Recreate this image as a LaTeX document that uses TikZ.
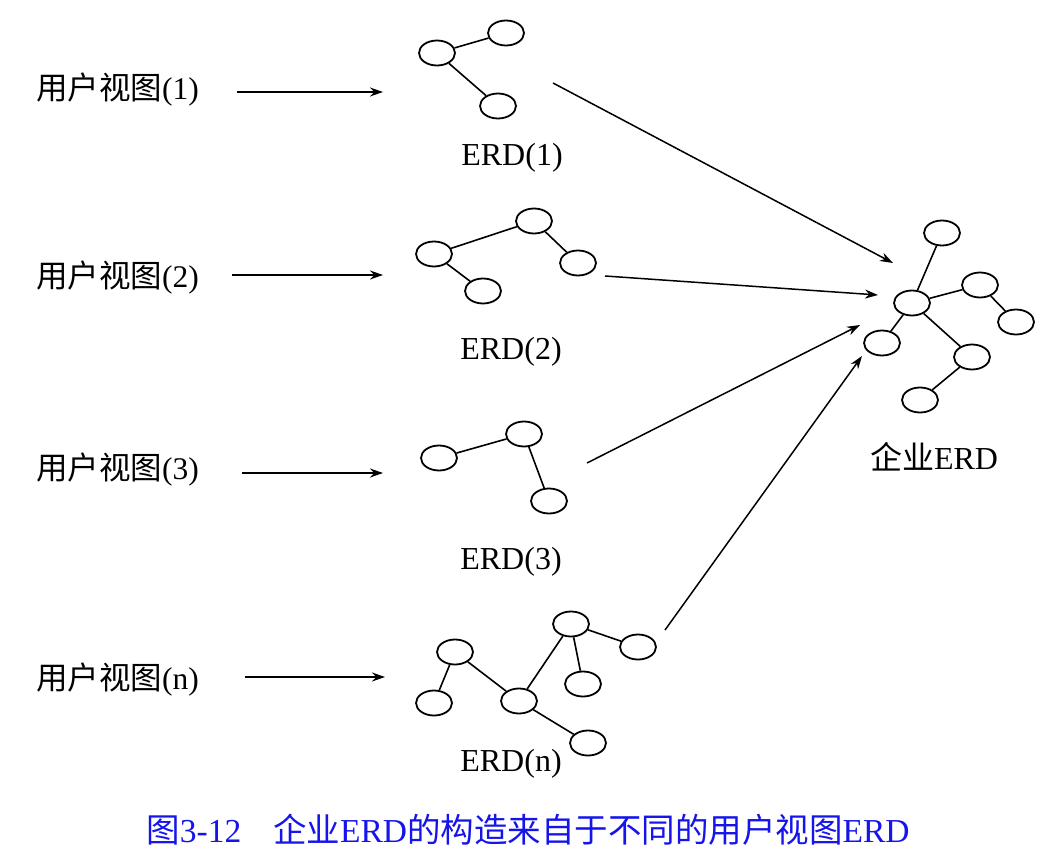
\documentclass[tikz,border=0pt]{standalone}
\usepackage{fontspec}
\setmainfont{Liberation Serif}
\newfontfamily\cjk{Noto Sans CJK SC}
\usetikzlibrary{shapes.geometric,arrows.meta}
\definecolor{capblue}{RGB}{20,20,235}
\begin{document}
\begin{tikzpicture}[x=1pt,y=-1pt,
  ent/.style={draw,ellipse,line width=1.8pt,minimum width=36pt,minimum height=25pt,inner sep=0pt},
  rel/.style={line width=1.6pt},
  arr/.style={line width=1.5pt,-{Stealth[length=13pt,width=9pt]}},
  lbl/.style={inner sep=0pt,font=\fontsize{31.5}{36}\selectfont},
  erdl/.style={inner sep=0pt,font=\fontsize{32}{36}\selectfont},
  capt/.style={inner sep=0pt,text=capblue,font=\fontsize{33.5}{38}\selectfont}]
\useasboundingbox (0,0) rectangle (1040,861);
% left labels
\node[lbl,anchor=west] (v1) at (36,90) {{\cjk 用户视图}(1)};
\node[lbl,anchor=west] (v2) at (36,278) {{\cjk 用户视图}(2)};
\node[lbl,anchor=west] (v3) at (36,470) {{\cjk 用户视图}(3)};
\node[lbl,anchor=west] (vn) at (36,680) {{\cjk 用户视图}(n)};
% short arrows
\coordinate (s1a) at (237,92); \coordinate (s1b) at (383,92);
\coordinate (s2a) at (232,275); \coordinate (s2b) at (383,275);
\coordinate (s3a) at (242,473); \coordinate (s3b) at (383,473);
\coordinate (sna) at (245,677); \coordinate (snb) at (385,677);
\draw[arr] (s1a) -- (s1b);
\draw[arr] (s2a) -- (s2b);
\draw[arr] (s3a) -- (s3b);
\draw[arr] (sna) -- (snb);
% ERD(1)
\node[ent] (a1) at (437,53) {};
\node[ent] (b1) at (506,33) {};
\node[ent] (c1) at (498,106) {};
\draw[rel] (a1) -- (b1) (a1) -- (c1);
\node[erdl] (l1) at (512,158) {ERD(1)};
% ERD(2)
\node[ent] (a2) at (434,254) {};
\node[ent] (b2) at (534,221) {};
\node[ent] (c2) at (578,263) {};
\node[ent] (d2) at (483,291) {};
\draw[rel] (a2) -- (b2) (b2) -- (c2) (a2) -- (d2);
\node[erdl] (l2) at (511,352) {ERD(2)};
% ERD(3)
\node[ent] (a3) at (439,458) {};
\node[ent] (b3) at (524,434) {};
\node[ent] (c3) at (549,501) {};
\draw[rel] (a3) -- (b3) (b3) -- (c3);
\node[erdl] (l3) at (511,562) {ERD(3)};
% ERD(n)
\node[ent] (an) at (455,652) {};
\node[ent] (bn) at (434,703) {};
\node[ent] (cn) at (519,701) {};
\node[ent] (dn) at (571,624) {};
\node[ent] (en) at (638,647) {};
\node[ent] (fn) at (583,684) {};
\node[ent] (gn) at (588,743) {};
\draw[rel] (an) -- (bn) (an) -- (cn) (cn) -- (dn) (dn) -- (en) (dn) -- (fn) (cn) -- (gn);
\node[erdl] (ln) at (511,764) {ERD(n)};
% enterprise ERD
\node[ent] (et) at (942,233) {};
\node[ent] (ec) at (912,303) {};
\node[ent] (er1) at (980,285) {};
\node[ent] (er2) at (1016,322) {};
\node[ent] (el) at (882,343) {};
\node[ent] (em) at (972,357) {};
\node[ent] (eb) at (920,400) {};
\draw[rel] (ec) -- (et) (ec) -- (er1) (er1) -- (er2) (ec) -- (el) (ec) -- (em) (em) -- (eb);
\node[erdl] (le) at (934,457) {{\cjk 企业}ERD};
% long arrows
\coordinate (p1a) at (553,83); \coordinate (p1b) at (893,263);
\coordinate (p2a) at (605,276); \coordinate (p2b) at (878,295);
\coordinate (p3a) at (587,463); \coordinate (p3b) at (860,325);
\coordinate (pna) at (665,630); \coordinate (pnb) at (862,356);
\draw[arr] (p1a) -- (p1b);
\draw[arr] (p2a) -- (p2b);
\draw[arr] (p3a) -- (p3b);
\draw[arr] (pna) -- (pnb);
% caption
\node[capt] (cap) at (528,830) {{\cjk 图}3-12\hspace{0.95em}{\cjk 企业}ERD{\cjk 的构造来自于不同的用户视图}ERD};
\end{tikzpicture}
\end{document}
